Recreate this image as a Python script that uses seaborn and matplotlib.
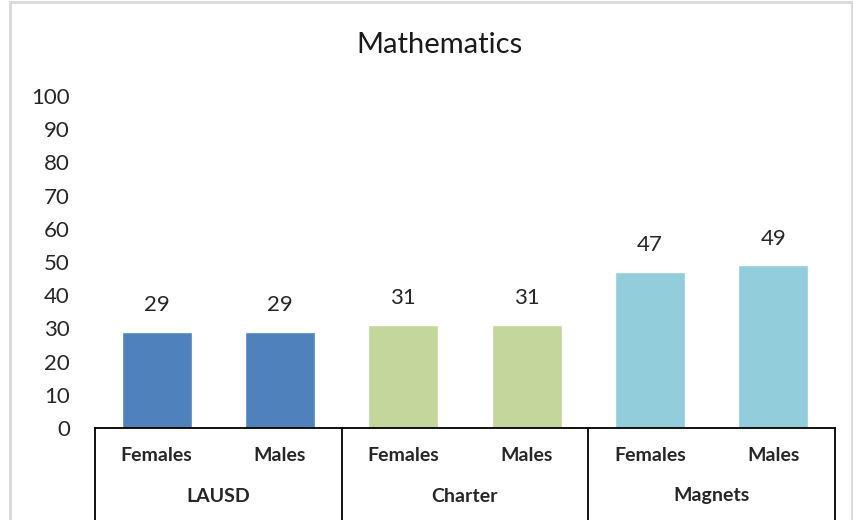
import matplotlib
matplotlib.use("Agg")
import matplotlib.pyplot as plt
import matplotlib.patches as mpatches
import matplotlib.transforms as mtransforms
import seaborn as sns
import pandas as pd

# Mathematics proficiency by school type and gender
groups = ["LAUSD", "Charter", "Magnets"]
genders = ["Females", "Males"]
values = [29, 29, 31, 31, 47, 49]
colors = ["#4F81BD", "#C3D69B", "#92CDDC"]

rows = []
for gi, g in enumerate(groups):
    for si, s in enumerate(genders):
        rows.append({"slot": f"{g} {s}", "group": g, "gender": s,
                     "value": values[gi * 2 + si]})
df = pd.DataFrame(rows)

sns.set_theme(style="white")
plt.rcParams["font.family"] = ["Lato", "DejaVu Sans"]

fig = plt.figure(figsize=(8.54, 5.2), dpi=100)
ax = fig.add_axes([95 / 854, 1 - 428 / 520, 740 / 854, 332 / 520])

sns.barplot(data=df, x="slot", y="value", hue="group", palette=colors,
            dodge=False, width=0.57, saturation=1, legend=False, ax=ax)

ax.set_ylim(0, 100)
ax.set_xlim(-0.5, len(df) - 0.5)
ax.set_yticks(range(0, 101, 10))
ax.tick_params(axis="y", length=0, pad=18, labelsize=16, labelcolor="#262626")
ax.set_xticks(range(len(df)))
ax.set_xticklabels(df["gender"], fontsize=14, fontweight="bold")
ax.tick_params(axis="x", length=0, pad=14)
ax.set_xlabel("")
ax.set_ylabel("")
for side in ["left", "right", "top"]:
    ax.spines[side].set_visible(False)
ax.spines["bottom"].set_color("black")
ax.spines["bottom"].set_linewidth(1.3)

# Value labels above each bar
for container in ax.containers:
    ax.bar_label(container, padding=12, fontsize=16, color="#262626")

# Group labels and separators below the axis
trans = mtransforms.blended_transform_factory(ax.transData, ax.transAxes)
bottom = -(520 - 428) / 332
for x in [-0.5, 1.5, 3.5, 5.5]:
    ax.plot([x, x], [0, bottom - 0.05], color="black", lw=1.3,
            transform=trans, clip_on=False)
for gi, g in enumerate(groups):
    ax.text(gi * 2 + 0.5, -(496 - 428) / 332, g, transform=trans,
            ha="center", va="center", fontsize=14, fontweight="bold")

# Chart title, centred on the chart frame
fig.text(440 / 854, 1 - 45 / 520, "Mathematics", ha="center", va="center",
         fontsize=21, color="#1a1a1a")

# Chart frame
fig.patches.append(mpatches.Rectangle((10 / 854, -0.01), 842 / 854, 1 - 2 / 520 + 0.01,
                                      transform=fig.transFigure, fill=False,
                                      edgecolor="#D9D9D9", lw=2))

fig.savefig("out.png", dpi=100)
